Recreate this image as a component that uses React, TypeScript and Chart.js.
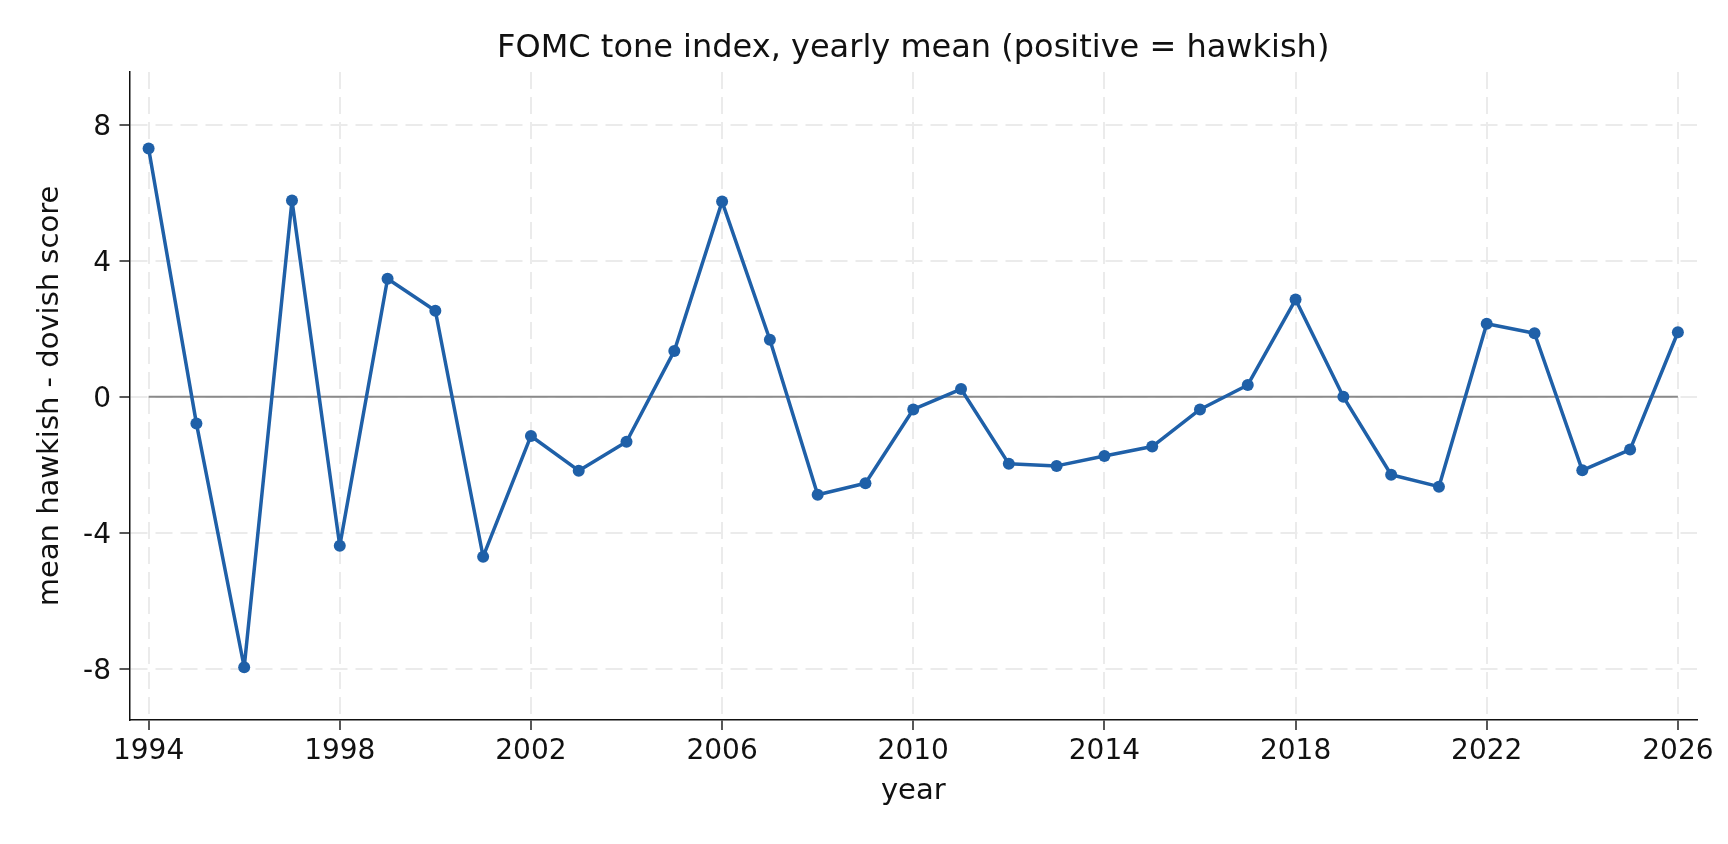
import React, { useEffect, useRef } from 'react';
import Chart from 'chart.js/auto';

const years = [
  1994, 1995, 1996, 1997, 1998, 1999, 2000, 2001, 2002, 2003, 2004,
  2005, 2006, 2007, 2008, 2009, 2010, 2011, 2012, 2013, 2014, 2015,
  2016, 2017, 2018, 2019, 2020, 2021, 2022, 2023, 2024, 2025, 2026,
];
const toneIndex = [
  7.3, -0.78, -7.95, 5.77, -4.38, 3.47, 2.53, -4.7, -1.15, -2.17, -1.32,
  1.35, 5.74, 1.68, -2.88, -2.54, -0.37, 0.23, -1.97, -2.03, -1.74, -1.46,
  -0.37, 0.35, 2.86, 0.0, -2.29, -2.64, 2.15, 1.87, -2.16, -1.55, 1.9,
];
const xTicks = [1994, 1998, 2002, 2006, 2010, 2014, 2018, 2022, 2026];
const yTicks = [-8, -4, 0, 4, 8];
const chartTitle = 'FOMC tone index, yearly mean (positive = hawkish)';

const W = 1728;
const H = 844;
const FONT = '"DejaVu Sans", "Noto Sans", sans-serif';
const LINE = '#1f60a8';
const INK = '#111111';
const GRID = '#ebebeb';

// title centred over the plot area, like matplotlib does
const axesTitle = {
  id: 'axesTitle',
  afterDraw(chart: any) {
    const { ctx, chartArea } = chart;
    ctx.save();
    ctx.font = `32px ${FONT}`;
    ctx.fillStyle = INK;
    ctx.textAlign = 'center';
    ctx.textBaseline = 'middle';
    ctx.fillText(chartTitle, (chartArea.left + chartArea.right) / 2, 48.5);
    ctx.restore();
  },
};

export default function App(): React.JSX.Element {
  const canvasRef = useRef<HTMLCanvasElement | null>(null);

  useEffect(() => {
    document.body.style.margin = '0';
    if (!canvasRef.current) return;

    const grid = {
      color: GRID,
      lineWidth: 2,
      drawTicks: true,
      tickLength: 10,
      tickColor: INK,
      tickWidth: 1.4,
      tickBorderDash: [],
    };
    const border = { display: true, color: INK, width: 1.5, dash: [17, 8] };

    const chart = new Chart(canvasRef.current, {
      type: 'line',
      data: {
        datasets: [
          {
            label: 'tone',
            data: years.map((y, i) => ({ x: y, y: toneIndex[i] })),
            borderColor: LINE,
            backgroundColor: LINE,
            borderWidth: 3.5,
            borderJoinStyle: 'round',
            pointRadius: 6,
            pointBorderWidth: 0,
            fill: false,
            tension: 0,
            order: 1,
          },
          {
            label: 'zero',
            data: [
              { x: years[0], y: 0 },
              { x: years[years.length - 1], y: 0 },
            ],
            borderColor: '#8a8a8a',
            borderWidth: 2,
            pointRadius: 0,
            fill: false,
            order: 2,
          },
        ],
      },
      options: {
        responsive: false,
        animation: false,
        devicePixelRatio: 1,
        layout: { padding: { left: 0, right: 31, top: 72, bottom: 0 } },
        plugins: {
          legend: { display: false },
          tooltip: { enabled: false },
          title: { display: false },
        },
        scales: {
          x: {
            type: 'linear',
            min: 1993.6,
            max: 2026.4,
            afterBuildTicks: (axis: any) => {
              axis.ticks = xTicks.map((v) => ({ value: v }));
            },
            afterFit: (axis: any) => {
              axis.height = 124;
            },
            grid,
            border,
            ticks: {
              color: INK,
              padding: 5,
              maxRotation: 0,
              autoSkip: false,
              font: { family: FONT, size: 28 },
              callback: (v: any) => String(v),
            },
            title: {
              display: true,
              text: 'year',
              color: INK,
              font: { family: FONT, size: 29 },
              padding: { top: 0, bottom: 35 },
            },
          },
          y: {
            type: 'linear',
            min: -9.5,
            max: 9.55,
            afterBuildTicks: (axis: any) => {
              axis.ticks = yTicks.map((v) => ({ value: v }));
            },
            afterFit: (axis: any) => {
              axis.width = 129.5;
            },
            grid,
            border,
            ticks: {
              color: INK,
              padding: 8.5,
              labelOffset: 3,
              autoSkip: false,
              font: { family: FONT, size: 28 },
              callback: (v: any) => String(v),
            },
            title: {
              display: true,
              text: 'mean hawkish - dovish score',
              color: INK,
              font: { family: FONT, size: 29 },
              padding: { top: 32.6, bottom: 0 },
            },
          },
        },
      },
      plugins: [axesTitle],
    } as any);

    return () => chart.destroy();
  }, []);

  return (
    <div style={{ width: W, height: H, background: '#fff' }}>
      <canvas ref={canvasRef} width={W} height={H} style={{ width: W, height: H, display: 'block' }} />
    </div>
  );
}
